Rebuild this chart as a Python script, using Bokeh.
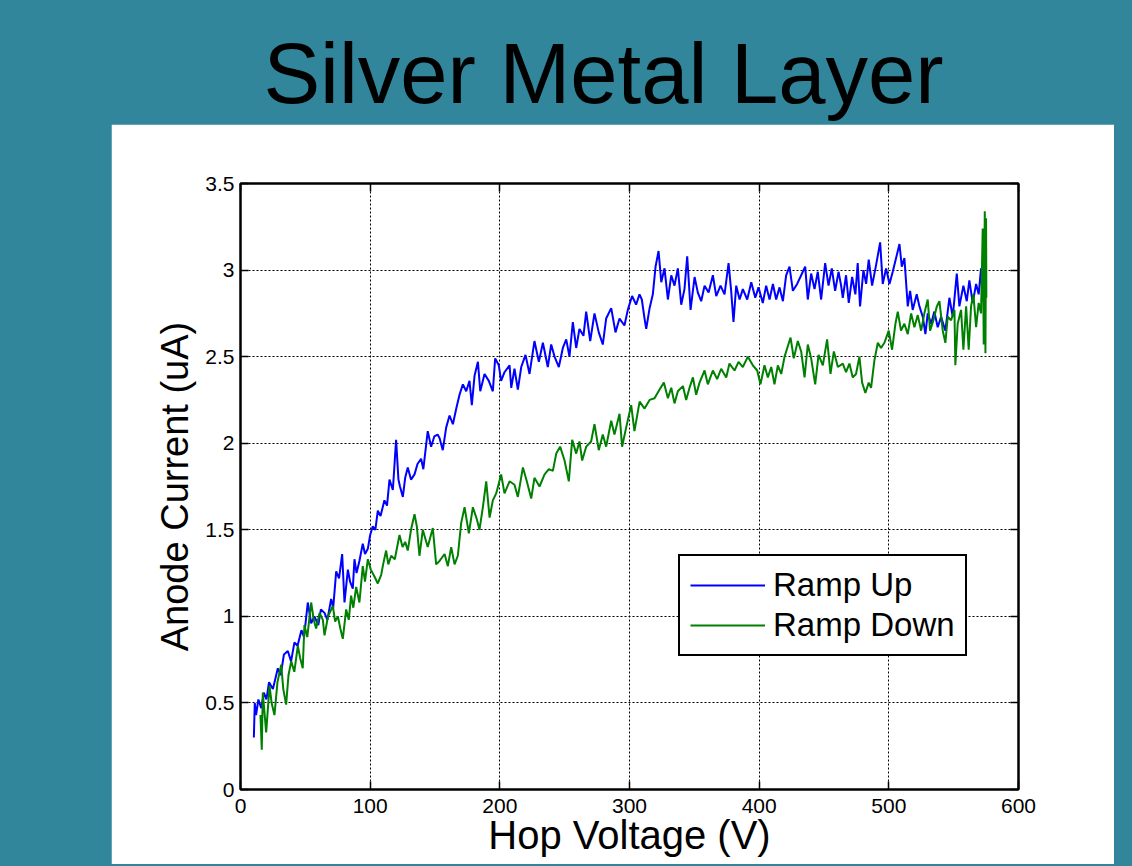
from bokeh.plotting import figure
from bokeh.models import LinearAxis, FixedTicker, Div, Spacer
from bokeh.layouts import column, row
from bokeh.embed import file_html
from bokeh.resources import INLINE

# ---------------- data ----------------
title_text = "Silver Metal Layer"
x_label = "Hop Voltage (V)"
y_label = "Anode Current (uA)"
series_names = ["Ramp Up", "Ramp Down"]

x_ticks = [0, 100, 200, 300, 400, 500, 600]
x_tick_labels = ["0", "100", "200", "300", "400", "500", "600"]
y_ticks = [0, 0.5, 1, 1.5, 2, 2.5, 3, 3.5]
y_tick_labels = ["0", "0.5", "1", "1.5", "2", "2.5", "3", "3.5"]

up_v = [10.3, 11.0, 12.0, 13.8, 16, 18, 20, 22, 25, 28.8, 31, 33.5, 36.5, 39, 41.6, 44, 47, 49,
        51.9, 54.5, 57, 60, 62, 64.8, 67, 69.9, 71.5, 73.8, 76, 78.4, 80.2, 82.8, 84.5, 86.6, 87.9,
        89.5, 91.7, 94.3, 96, 98.2, 100, 102, 104, 105.9, 108, 111, 113, 114.9, 117.5, 120, 121.8,
        123, 125.2, 127, 129, 131.5, 134.2, 136.5, 139.3, 141, 144.4, 147, 149.5, 152, 153.5, 156,
        158.6, 161.2, 163.8, 166.4, 168.9, 171.5, 174.1, 176.6, 178.4, 180.5, 183.1, 184.9, 188.2,
        191.5, 194.6, 196.4, 199.2, 201, 203.6, 207.5, 208.8, 211.3, 213.9, 216.5, 219.8, 222.9,
        226.7, 230.1, 233.2, 237, 239.6, 242.2, 245.5, 248.6, 251.2, 253.7, 256.3, 258.9, 261.4,
        264.5, 266.6, 269.7, 273, 276.3, 279.4, 282, 285.9, 289.2, 292.3, 296.1, 298.7, 302, 305.1,
        307.7, 309.5, 311.6, 312.9, 315.5, 318, 320.1, 322.4, 324.5, 327, 329.6, 332.2, 334.7,
        337.3, 339.9, 342.4, 344.5, 347.1, 350.2, 352.7, 355.3, 357.9, 361, 364.3, 366.9, 370.2,
        373.3, 376.4, 378.4, 380.2, 382.3, 384.9, 387.4, 390.8, 393.9, 397, 399.5, 402.8, 405.4,
        408, 410.6, 413.1, 415.7, 418.3, 420.8, 423.4, 426, 429.3, 432.4, 435.5, 437.5, 440.1,
        442.7, 445.2, 447.8, 450.9, 453.5, 456, 458.6, 461.2, 463.2, 464.5, 467, 469.1, 471.7,
        474.2, 476, 477.8, 480.4, 482.5, 484.5, 487.1, 490.2, 493.3, 495.3, 497.9, 500.5, 503,
        505.6, 508.2, 510, 512, 514.6, 516.4, 518.4, 521.5, 523.6, 526.2, 528.2, 530, 532.6, 535.1,
        537.7, 540.3, 543.6, 546.7, 549.3, 552.4, 554.4, 557.5, 560.1, 562.1, 564.7, 567.3, 569.3,
        571.1, 572.4]
up_i = [0.30, 0.50, 0.43, 0.52, 0.47, 0.56, 0.52, 0.62, 0.58, 0.70, 0.66, 0.78, 0.80, 0.74, 0.85,
        0.83, 0.92, 0.88, 1.08, 0.96, 1.00, 0.95, 1.04, 1.02, 0.98, 1.10, 1.05, 1.26, 1.22, 1.36,
        1.08, 1.27, 1.20, 1.16, 1.33, 1.25, 1.32, 1.42, 1.36, 1.39, 1.47, 1.52, 1.50, 1.61, 1.58,
        1.67, 1.64, 1.79, 1.73, 2.02, 1.79, 1.75, 1.69, 1.80, 1.86, 1.79, 1.82, 1.88, 1.91, 1.85,
        2.07, 1.98, 2.04, 2.05, 2.03, 1.96, 2.09, 2.16, 2.11, 2.20, 2.28, 2.34, 2.30, 2.36, 2.22,
        2.39, 2.47, 2.30, 2.40, 2.36, 2.30, 2.49, 2.45, 2.36, 2.41, 2.45, 2.32, 2.43, 2.31, 2.44,
        2.51, 2.40, 2.59, 2.47, 2.58, 2.44, 2.57, 2.50, 2.44, 2.55, 2.60, 2.50, 2.70, 2.55, 2.66,
        2.62, 2.76, 2.59, 2.75, 2.64, 2.57, 2.72, 2.78, 2.64, 2.72, 2.68, 2.77, 2.85, 2.80, 2.86,
        2.83, 2.72, 2.66, 2.78, 2.86, 3.02, 3.11, 2.93, 3.01, 2.83, 2.97, 2.91, 3.01, 2.80, 2.89,
        3.08, 2.77, 2.96, 2.87, 2.82, 2.91, 2.87, 2.97, 2.85, 2.91, 2.86, 3.04, 2.88, 2.70, 2.91,
        2.83, 2.89, 2.83, 2.93, 2.84, 2.90, 2.81, 2.91, 2.83, 2.92, 2.83, 2.90, 2.82, 2.97, 3.02,
        2.88, 2.92, 2.97, 3.02, 2.83, 2.98, 2.89, 2.99, 2.83, 3.04, 2.91, 3.01, 2.88, 2.99, 2.91,
        2.84, 2.97, 2.81, 2.96, 2.86, 3.04, 2.79, 3.00, 2.92, 3.06, 2.91, 3.03, 3.16, 2.92, 3.01,
        2.92, 2.99, 3.07, 3.15, 3.02, 3.07, 2.79, 2.88, 2.77, 2.86, 2.79, 2.73, 2.63, 2.75, 2.69,
        2.76, 2.67, 2.73, 2.65, 2.84, 2.73, 2.98, 2.79, 2.91, 2.82, 2.94, 2.81, 2.92, 2.86, 3.01,
        2.82]

down_v = [15.4, 16.4, 17.2, 19.8, 22.4, 24, 26.2, 28.5, 31.4, 33, 35.2, 37, 39.1, 41.5, 44.2, 46,
          48, 49.3, 51.5, 54.5, 56.5, 58.3, 61, 63.5, 64.8, 67.5, 71.2, 73, 75.1, 77, 78.9, 81.5,
          83.5, 85.3, 87, 89.2, 91.7, 94.3, 96, 98.2, 100.5, 103.3, 105.9, 108.5, 110, 112.3, 114,
          116.2, 119, 122.6, 125, 127, 129, 131.5, 134.2, 136, 138, 140.6, 142.5, 144.4, 146.5,
          148.3, 150.9, 153.5, 157.4, 159.9, 162.5, 165.1, 167.6, 170.2, 172.8, 176.1, 179.2,
          182.3, 184.3, 186.9, 189.5, 192.1, 194.6, 197.2, 201, 203.6, 207.5, 211.3, 213.9, 217.8,
          220.8, 224.2, 226.7, 230.6, 234.5, 237.8, 240.9, 243.5, 246.5, 249.9, 253.2, 255.8,
          258.9, 261.4, 263.5, 266.6, 270.4, 273, 276.3, 279.4, 282, 285.9, 288.4, 292.3, 294.3,
          297.4, 301.3, 303.8, 307.8, 311.6, 315.5, 319.3, 323.2, 326.5, 329.6, 332.2, 334.7,
          337.3, 341.2, 343.7, 346.3, 348.9, 351.4, 354, 357.9, 360.4, 364.3, 367.6, 370.7, 374.6,
          377.1, 381, 384.1, 387.4, 391.3, 395.1, 398.5, 401, 404.1, 406.7, 409.3, 411.8, 414.4,
          417, 419.6, 422.1, 424.2, 426.7, 429.8, 432.4, 435, 437.5, 440.1, 443.2, 445.8, 449.1,
          452.4, 455, 457.6, 460.7, 464.5, 467, 469.6, 472.2, 474.7, 477.3, 479.4, 481.9, 484.5,
          486.3, 488.9, 491.5, 494, 496.6, 499.9, 502.5, 505.1, 506.9, 509.4, 512, 514.6, 517.2,
          519.7, 522.3, 524.9, 527.4, 530, 531.8, 534.4, 537, 539, 541.6, 543.6, 545.4, 548, 550.6,
          551.3, 553.1, 555.7, 557.5, 559.6, 561.6, 563.4, 565.2, 567.3, 569.3, 571.1, 572.4,
          573.2, 574, 574.5, 575, 575.2]
down_i = [0.43, 0.23, 0.56, 0.33, 0.60, 0.50, 0.43, 0.62, 0.72, 0.58, 0.49, 0.66, 0.74, 0.68, 0.83,
          0.76, 0.70, 0.95, 0.88, 1.08, 0.98, 0.93, 1.02, 0.98, 0.89, 1.00, 1.06, 0.97, 1.00, 0.93,
          0.87, 1.04, 0.98, 1.12, 1.05, 1.17, 1.08, 1.29, 1.20, 1.33, 1.27, 1.23, 1.19, 1.24, 1.30,
          1.38, 1.30, 1.35, 1.33, 1.47, 1.40, 1.43, 1.38, 1.50, 1.59, 1.52, 1.35, 1.50, 1.45, 1.40,
          1.46, 1.51, 1.30, 1.32, 1.36, 1.29, 1.40, 1.30, 1.35, 1.54, 1.63, 1.48, 1.63, 1.56, 1.50,
          1.63, 1.78, 1.57, 1.67, 1.71, 1.82, 1.71, 1.78, 1.76, 1.69, 1.86, 1.78, 1.68, 1.80, 1.75,
          1.82, 1.85, 1.84, 1.94, 1.98, 1.90, 1.78, 2.02, 1.94, 2.01, 1.90, 1.98, 2.01, 2.11, 1.96,
          2.05, 1.98, 2.13, 2.05, 2.17, 1.98, 2.09, 2.22, 2.07, 2.24, 2.20, 2.25, 2.26, 2.31, 2.35,
          2.26, 2.32, 2.23, 2.30, 2.33, 2.25, 2.32, 2.38, 2.28, 2.35, 2.42, 2.34, 2.42, 2.37, 2.43,
          2.38, 2.46, 2.42, 2.47, 2.44, 2.50, 2.45, 2.42, 2.34, 2.45, 2.38, 2.44, 2.34, 2.45, 2.40,
          2.50, 2.56, 2.61, 2.49, 2.59, 2.53, 2.38, 2.57, 2.49, 2.34, 2.51, 2.45, 2.60, 2.40, 2.53,
          2.44, 2.46, 2.41, 2.46, 2.38, 2.40, 2.50, 2.35, 2.29, 2.35, 2.32, 2.48, 2.58, 2.55, 2.58,
          2.65, 2.54, 2.69, 2.76, 2.65, 2.69, 2.63, 2.75, 2.67, 2.74, 2.65, 2.75, 2.83, 2.65, 2.71,
          2.79, 2.82, 2.65, 2.58, 2.73, 2.71, 2.77, 2.45, 2.69, 2.77, 2.54, 2.79, 2.54, 2.79, 2.86,
          2.67, 2.81, 2.75, 3.24, 2.57, 3.34, 2.52, 3.30, 2.84]

# ---------------- styling ----------------
FONT = "Liberation Sans"
TEAL = "#31869B"

p = figure(width=1003, height=740, x_range=(0, 600), y_range=(0, 3.5),
           output_backend="svg", toolbar_location=None,
           min_border_left=129, min_border_right=96, min_border_top=59, min_border_bottom=75,
           background_fill_color="white", border_fill_color="white",
           outline_line_color="black", outline_line_width=2, margin=0)

xa = p.below[0]
ya = p.left[0]

p.line(up_v, up_i, line_color="#0000FF", line_width=2, legend_label=series_names[0])
p.line(down_v, down_i, line_color="#008000", line_width=2, legend_label=series_names[1])

top_axis = LinearAxis()
right_axis = LinearAxis()
p.add_layout(top_axis, "above")
p.add_layout(right_axis, "right")

x_over = {t: l for t, l in zip(x_ticks, x_tick_labels)}
y_over = {t: l for t, l in zip(y_ticks, y_tick_labels)}

for ax in [xa, top_axis]:
    ax.ticker = FixedTicker(ticks=x_ticks)
for ax in [ya, right_axis]:
    ax.ticker = FixedTicker(ticks=y_ticks)

for ax in [xa, ya, top_axis, right_axis]:
    ax.major_tick_in = 8
    ax.major_tick_out = 0
    ax.major_tick_line_width = 1.5
    ax.major_tick_line_color = "black"
    ax.minor_tick_line_color = None
    ax.axis_line_width = 2
    ax.axis_line_color = "black"
    ax.major_label_text_font = FONT
    ax.major_label_text_color = "black"
    ax.axis_label_text_font = FONT
    ax.axis_label_text_font_style = "normal"
    ax.axis_label_text_color = "black"

for ax in [top_axis, right_axis]:
    ax.major_label_text_font_size = "0px"
    ax.major_label_text_color = None
    ax.major_label_standoff = 0

xa.major_label_overrides = x_over
xa.major_label_text_font_size = "21px"
xa.major_label_standoff = 9
xa.axis_label = x_label
xa.axis_label_text_font_size = "40px"
xa.axis_label_standoff = -3

ya.major_label_overrides = y_over
ya.major_label_text_font_size = "21px"
ya.major_label_standoff = 6
ya.axis_label = y_label
ya.axis_label_text_font_size = "38px"
ya.axis_label_standoff = 6

p.xgrid.ticker = FixedTicker(ticks=x_ticks)
p.ygrid.ticker = FixedTicker(ticks=y_ticks)
for g in [p.xgrid, p.ygrid]:
    g.grid_line_color = "black"
    g.grid_line_width = 1
    g.grid_line_dash = "2 2"
    g.grid_line_alpha = 1.0

lg = p.legend[0]
lg.location = (438, 133)
lg.border_line_color = "black"
lg.border_line_alpha = 1.0
lg.border_line_width = 2
lg.background_fill_color = "white"
lg.background_fill_alpha = 1.0
lg.label_text_font = FONT
lg.label_text_font_size = "33px"
lg.label_text_color = "black"
lg.glyph_width = 75
lg.glyph_height = 38
lg.label_height = 38
lg.label_standoff = 8
lg.padding = 10
lg.spacing = 2
lg.margin = 0

title_html = (
    '<div style="width:1116px;height:124px;padding-top:31px;padding-left:91px;'
    'box-sizing:border-box;text-align:center;font-family:\'Liberation Sans\',Arial,sans-serif;'
    'font-size:85px;line-height:85px;color:black;white-space:nowrap;">'
    + title_text + '</div>'
)
title_div = Div(text=title_html, width=1116, height=124, margin=0)
spacer = Spacer(width=111, height=740, margin=0)

layout = column(title_div, row(spacer, p, margin=0, spacing=0), margin=0, spacing=0)

html = file_html(layout, INLINE)
idx = html.rfind("</head>")
if idx != -1:
    html = html[:idx] + "<style>body{background-color:%s;}</style>" % TEAL + html[idx:]
open("out.html", "w").write(html)
